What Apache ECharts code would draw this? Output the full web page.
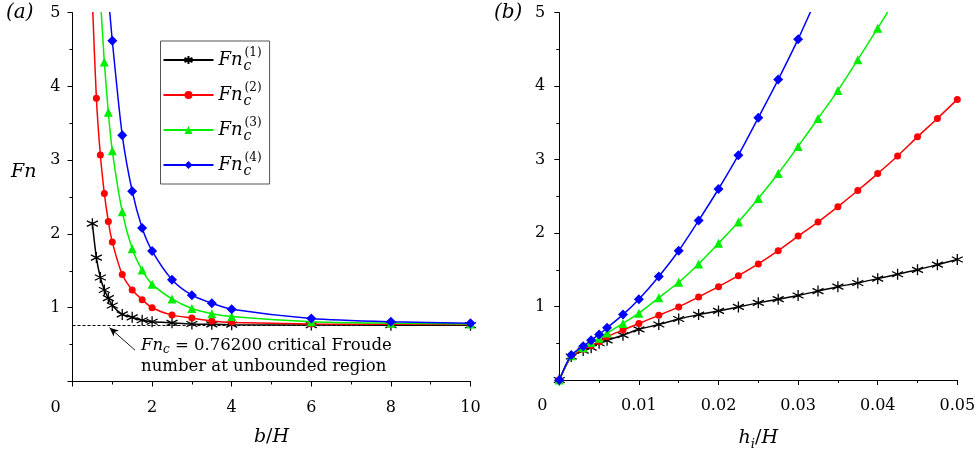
<!DOCTYPE html>
<html>
<head>
<meta charset="utf-8">
<script src="https://cdn.jsdelivr.net/npm/echarts@6/dist/echarts.min.js"></script>
<style>
  html, body { margin: 0; padding: 0; background: #fff; }
  #chart { width: 980px; height: 456px; }
</style>
</head>
<body>
<div id="chart"></div>
<script>
// ---- (a) critical Froude number against channel width b/H ----
const bA1 = [0.5, 0.6, 0.7, 0.8, 0.9, 1.0, 1.25, 1.5, 1.75, 2, 2.5, 3, 3.5, 4, 6, 8, 10];
const fnA1 = [2.14, 1.68, 1.41, 1.24, 1.13, 1.03, 0.91, 0.87, 0.83, 0.81, 0.795, 0.78, 0.775, 0.77, 0.765, 0.764, 0.763];
const bA2 = [0.5, 0.6, 0.7, 0.8, 0.9, 1.0, 1.25, 1.5, 1.75, 2, 2.5, 3, 3.5, 4, 6, 8, 10];
const fnA2 = [5.15, 3.84, 3.07, 2.55, 2.17, 1.89, 1.45, 1.24, 1.11, 1.00, 0.90, 0.86, 0.82, 0.80, 0.78, 0.775, 0.77];
const bA3 = [0.7, 0.8, 0.9, 1.0, 1.25, 1.5, 1.75, 2, 2.5, 3, 3.5, 4, 6, 8, 10];
const fnA3 = [5.2, 4.33, 3.65, 3.13, 2.30, 1.80, 1.51, 1.32, 1.12, 0.99, 0.92, 0.88, 0.81, 0.79, 0.78];
const bA4 = [0.9, 1.0, 1.25, 1.5, 1.75, 2, 2.5, 3, 3.5, 4, 6, 8, 10];
const fnA4 = [5.25, 4.62, 3.34, 2.58, 2.08, 1.77, 1.38, 1.17, 1.06, 0.98, 0.855, 0.81, 0.79];

// ---- (b) critical Froude number against interface height h_i/H ----
const hB = [0, 0.0015, 0.003, 0.004, 0.005, 0.006, 0.008, 0.01, 0.0125, 0.015, 0.0175, 0.02,
            0.0225, 0.025, 0.0275, 0.03, 0.0325, 0.035, 0.0375, 0.04, 0.0425, 0.045, 0.0475, 0.05];
const fnB1 = [0, 0.32, 0.40, 0.44, 0.50, 0.54, 0.61, 0.69, 0.755, 0.83, 0.89, 0.94, 0.995, 1.05,
              1.10, 1.15, 1.21, 1.27, 1.32, 1.38, 1.44, 1.50, 1.57, 1.64];
const fnB2 = [0, 0.32, 0.42, 0.47, 0.52, 0.59, 0.68, 0.77, 0.88, 0.995, 1.13, 1.27, 1.42, 1.58,
              1.76, 1.96, 2.15, 2.36, 2.58, 2.81, 3.05, 3.31, 3.56, 3.82];
const fnB3 = [0, 0.33, 0.44, 0.51, 0.57, 0.64, 0.77, 0.91, 1.12, 1.33, 1.58, 1.86, 2.15, 2.47,
              2.81, 3.18, 3.56, 3.94, 4.36, 4.79, 5.23];
const fnB4 = [0, 0.34, 0.46, 0.54, 0.62, 0.71, 0.89, 1.10, 1.41, 1.76, 2.17, 2.60, 3.06, 3.57,
              4.09, 4.64, 5.24];

// critical Froude number in the unbounded region
const fnUnbounded = 0.762;

// axis ticks
const ticksA = { min: 0, max: 10, step: 2 };
const ticksB = { min: 0, max: 0.05, step: 0.01 };
const ticksFn = { min: 0, max: 5, step: 1 };

const names = ['Fn1', 'Fn2', 'Fn3', 'Fn4'];
const colors = ['#000000', '#ff0000', '#00ee00', '#0000ff'];

const SERIF = 'DejaVu Serif';
const STAR = 'path://M0,-10L0,10M-8.66,-5L8.66,5M-8.66,5L8.66,-5';
const symbols = [STAR, 'circle', 'triangle', 'diamond'];
const symbolSizes = [11, 7, 9, 10];

const pairs = (xs, ys) => ys.map((y, i) => [xs[i], y]);

function lineSeries(k, data, axisIndex) {
  return {
    name: names[k],
    type: 'line',
    xAxisIndex: axisIndex,
    yAxisIndex: axisIndex,
    data: data,
    smooth: 0.25,
    clip: true,
    symbol: symbols[k],
    symbolSize: symbolSizes[k],
    showAllSymbol: true,
    lineStyle: { color: colors[k], width: 1.5 },
    itemStyle: k === 0
      ? { color: colors[k], borderColor: colors[k], borderWidth: 1.3 }
      : { color: colors[k], borderWidth: 0 },
    emphasis: { disabled: true },
    animation: false,
    z: 3 + k
  };
}

const tickFont = { fontFamily: SERIF, fontSize: 16, color: '#000' };

function xAxisCfg(idx, t, nameRich, fmt) {
  return {
    type: 'value', gridIndex: idx,
    min: t.min, max: t.max, interval: t.step,
    axisLine: { show: true, onZero: false, lineStyle: { color: '#000', width: 1 } },
    axisTick: { show: true, inside: false, length: 5, lineStyle: { color: '#000' } },
    minorTick: { show: true, splitNumber: 2, length: 3, lineStyle: { color: '#000' } },
    splitLine: { show: false },
    axisLabel: Object.assign({}, tickFont, {
      margin: 18,
      formatter: v => (v === 0 ? '{z|0}' : fmt(v)),
      rich: { z: Object.assign({}, tickFont, { padding: [0, 34, 0, 0] }) }
    }),
    name: nameRich.text,
    nameLocation: 'middle',
    nameGap: 46,
    nameTextStyle: { rich: nameRich.rich }
  };
}

function yAxisCfg(idx, margin) {
  return {
    type: 'value', gridIndex: idx,
    min: ticksFn.min, max: ticksFn.max, interval: ticksFn.step,
    axisLine: { show: true, onZero: false, lineStyle: { color: '#000', width: 1 } },
    axisTick: { show: true, inside: false, length: 5, lineStyle: { color: '#000' } },
    minorTick: { show: true, splitNumber: 2, length: 3, lineStyle: { color: '#000' } },
    splitLine: { show: false },
    axisLabel: Object.assign({}, tickFont, {
      margin: margin,
      formatter: v => (v === 0 ? '' : String(v))
    })
  };
}

const italic = { fontFamily: SERIF, fontStyle: 'italic', fontSize: 19, color: '#000' };

const nameA = {
  text: '{i|b}{r|/}{i|H}',
  rich: { i: italic, r: Object.assign({}, italic, { fontStyle: 'normal' }) }
};
const nameB = {
  text: '{i|h}{s|i}{r|/}{i|H}',
  rich: {
    i: italic,
    s: Object.assign({}, italic, { fontSize: 13, padding: [12, 0, 0, 0] }),
    r: Object.assign({}, italic, { fontStyle: 'normal' })
  }
};

const series = [
  lineSeries(0, pairs(bA1, fnA1), 0),
  lineSeries(1, pairs(bA2, fnA2), 0),
  lineSeries(2, pairs(bA3, fnA3), 0),
  lineSeries(3, pairs(bA4, fnA4), 0),
  lineSeries(0, pairs(hB, fnB1), 1),
  lineSeries(1, pairs(hB, fnB2), 1),
  lineSeries(2, pairs(hB, fnB3), 1),
  lineSeries(3, pairs(hB, fnB4), 1)
];

// dashed reference level and the pointer arrow towards it
series[0].markLine = {
  silent: true,
  animation: false,
  label: { show: false },
  data: [
    [
      { coord: [ticksA.min, fnUnbounded], symbol: 'none',
        lineStyle: { color: '#000', type: [3, 2], width: 1 } },
      { coord: [ticksA.max, fnUnbounded], symbol: 'none' }
    ],
    [
      { coord: [1.57, 0.425], symbol: 'none',
        lineStyle: { color: '#000', type: 'solid', width: 0.9 } },
      { coord: [0.93, 0.73], symbol: 'arrow', symbolSize: [6, 9] }
    ]
  ]
};

const chart = echarts.init(document.getElementById('chart'), null, { renderer: 'canvas' });

chart.setOption({
  backgroundColor: '#fff',
  animation: false,
  textStyle: { fontFamily: SERIF },
  grid: [
    { left: 72.5, top: 12.7, width: 398, height: 368.8, containLabel: false },
    { left: 559.3, top: 12.7, width: 398, height: 369, containLabel: false }
  ],
  xAxis: [
    xAxisCfg(0, ticksA, nameA, v => String(v)),
    xAxisCfg(1, ticksB, nameB, v => v.toFixed(2))
  ],
  yAxis: [yAxisCfg(0, 12), yAxisCfg(1, 14)],
  legend: {
    left: 160.5, top: 41,
    orient: 'vertical',
    data: names,
    borderColor: '#555',
    borderWidth: 1,
    padding: [6, 8, 6, 2],
    itemGap: 9,
    itemWidth: 50,
    itemHeight: 10,
    selectedMode: false,
    formatter: n => '{f|Fn}{c|c}{s|(' + n.slice(2) + ')}',
    textStyle: {
      rich: {
        f: { fontFamily: SERIF, fontStyle: 'italic', fontSize: 18, color: '#000',
             lineHeight: 26, verticalAlign: 'middle' },
        c: { fontFamily: SERIF, fontStyle: 'italic', fontSize: 14, color: '#000',
             width: 0, align: 'left', lineHeight: 26, verticalAlign: 'bottom', padding: [0, 0, 0, 1] },
        s: { fontFamily: SERIF, fontSize: 12, color: '#000',
             lineHeight: 26, verticalAlign: 'top', padding: [0, 0, 0, 1] }
      }
    }
  },
  graphic: [
    { type: 'text', left: 6, top: 3,
      style: { text: '(a)', font: 'italic 20px ' + SERIF, fill: '#000' } },
    { type: 'text', left: 494, top: 3,
      style: { text: '(b)', font: 'italic 20px ' + SERIF, fill: '#000' } },
    { type: 'text', left: 11, top: 163,
      style: { text: 'Fn', font: 'italic 19px ' + SERIF, fill: '#000' } },
    {
      type: 'text', left: 141, top: 335,
      style: {
        text: '{i|Fn}{c|c}{r| = 0.76200 critical Froude}\n{r|number at unbounded region}',
        rich: {
          i: { fontFamily: SERIF, fontStyle: 'italic', fontSize: 16.5, fill: '#000', lineHeight: 21 },
          c: { fontFamily: SERIF, fontStyle: 'italic', fontSize: 12, fill: '#000', lineHeight: 21,
               padding: [9, 0, 0, 0] },
          r: { fontFamily: SERIF, fontSize: 16.5, fill: '#000', lineHeight: 21 }
        }
      }
    }
  ],
  series: series
});
</script>
</body>
</html>
